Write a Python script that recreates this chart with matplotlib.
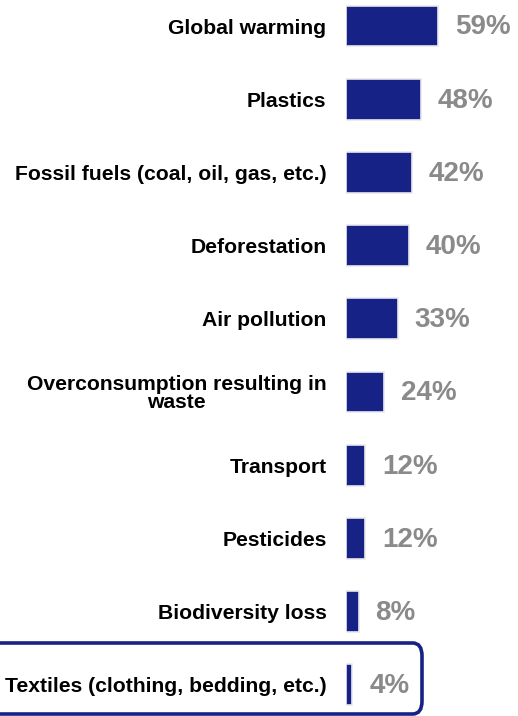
import matplotlib.pyplot as plt
import numpy as np
from matplotlib.patches import FancyBboxPatch

# Environmental issues, share of respondents (%)
issues = ["Global warming", "Plastics", "Fossil fuels (coal, oil, gas, etc.)",
          "Deforestation", "Air pollution", "Overconsumption resulting in\nwaste",
          "Transport", "Pesticides", "Biodiversity loss",
          "Textiles (clothing, bedding, etc.)"]
shares = [59, 48, 42, 40, 33, 24, 12, 12, 8, 4]

navy = "#172287"
grey = "#8a8a8a"

plt.rcParams['font.family'] = ['Liberation Sans', 'DejaVu Sans']

W, H = 518, 716
fig = plt.figure(figsize=(W / 100, H / 100), dpi=100)

# axes starts where bars start, spans the full height
x0 = 346
px_per_pct = 1.565
row = 73.2
top = 26
ax = fig.add_axes([x0 / W, 0, (W - x0) / W, 1])
ax.set_xlim(0, (W - x0) / px_per_pct)
ax.set_ylim((H - top) / row, -top / row)

y = np.arange(len(issues))
ax.barh(y, shares, height=0.56, color=navy, edgecolor="#e8e8ee", linewidth=1.2)

for yi, v in zip(y, shares):
    ax.text(v + 17 / px_per_pct, yi + 0.02, f"{v}%", va="center", ha="left",
            fontsize=20, fontweight="bold", color=grey)

ax.set_yticks(y)
ax.set_yticklabels(issues, fontsize=15.2, fontweight="bold",
                   multialignment="center", linespacing=0.95)
ax.tick_params(axis="y", length=0, pad=14)
ax.set_xticks([])
for s in ax.spines.values():
    s.set_visible(False)

# highlight box round the last row
box = FancyBboxPatch((-12 / W, 2 / H), 434 / W, 71 / H,
                     boxstyle="round,pad=0,rounding_size=0.018",
                     transform=fig.transFigure, fill=False,
                     edgecolor=navy, linewidth=2.6, clip_on=False)
fig.patches.append(box)

fig.savefig("out.png", dpi=100)
